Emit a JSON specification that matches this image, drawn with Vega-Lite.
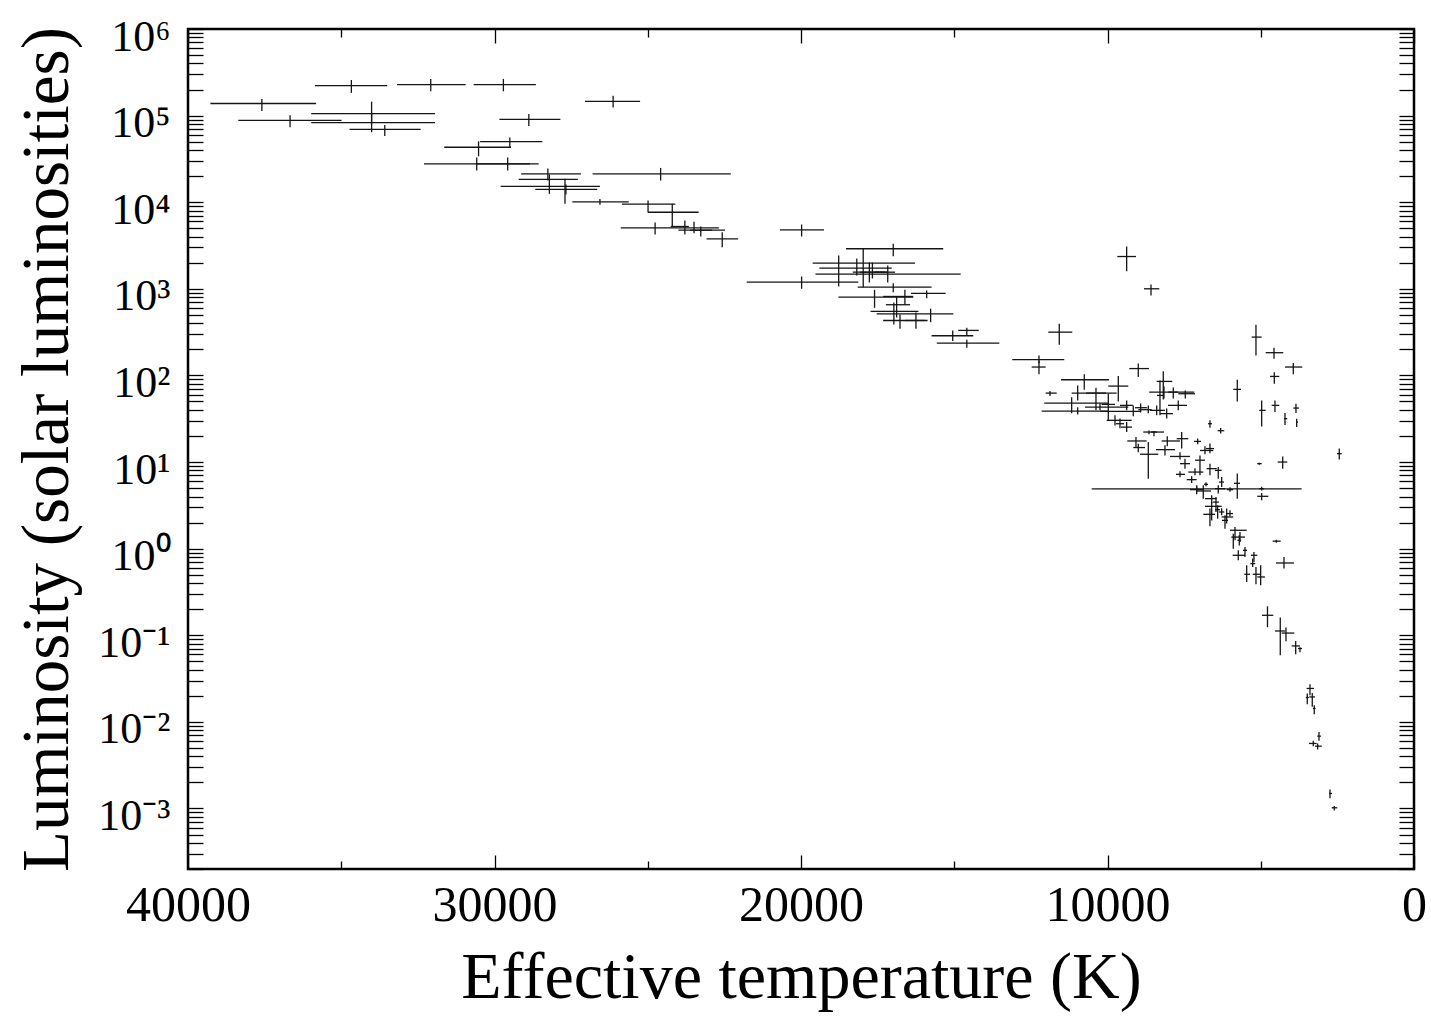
{
  "$schema": "https://vega.github.io/schema/vega-lite/v6.json",
  "autosize": {"type": "none"},
  "width": 1226,
  "height": 840,
  "padding": {"left": 188, "top": 29, "right": 17, "bottom": 148},
  "background": "white",
  "config": {
    "view": {"stroke": "black", "strokeWidth": 2.5},
    "axis": {
      "labelFont": "Liberation Serif",
      "titleFont": "Liberation Serif",
      "labelColor": "black",
      "titleColor": "black",
      "titleFontWeight": "normal",
      "tickColor": "black",
      "tickWidth": 1.3,
      "domain": false,
      "grid": false
    }
  },
  "data": {"values": [
    {"T":34670,"Thi":35860,"Tlo":33500,"L":222000,"Lhi":258000,"Llo":183000},
    {"T":32080,"Thi":33180,"Tlo":30940,"L":228000,"Lhi":265000,"Llo":191000},
    {"T":29710,"Thi":30680,"Tlo":28650,"L":228000,"Lhi":265000,"Llo":191000},
    {"T":37590,"Thi":39270,"Tlo":35820,"L":138000,"Lhi":156000,"Llo":113000},
    {"T":36670,"Thi":38360,"Tlo":34990,"L":88300,"Lhi":101000,"Llo":73300},
    {"T":34010,"Thi":35980,"Tlo":31940,"L":105500,"Lhi":145000,"Llo":78700},
    {"T":34010,"Thi":35980,"Tlo":31940,"L":83000,"Lhi":108300,"Llo":64200},
    {"T":33580,"Thi":34730,"Tlo":32410,"L":69500,"Lhi":78100,"Llo":58300},
    {"T":26130,"Thi":27050,"Tlo":25250,"L":146000,"Lhi":170000,"Llo":124000},
    {"T":28880,"Thi":29840,"Tlo":27850,"L":90600,"Lhi":104600,"Llo":76100},
    {"T":29500,"Thi":30470,"Tlo":28440,"L":50100,"Lhi":55800,"Llo":42400},
    {"T":30520,"Thi":31640,"Tlo":29460,"L":43100,"Lhi":50500,"Llo":33900},
    {"T":30580,"Thi":32300,"Tlo":28840,"L":27700,"Lhi":32800,"Llo":23200},
    {"T":29570,"Thi":30600,"Tlo":28560,"L":27700,"Lhi":32800,"Llo":23200},
    {"T":28260,"Thi":29130,"Tlo":27180,"L":21250,"Lhi":24500,"Llo":17800},
    {"T":28210,"Thi":29210,"Tlo":27280,"L":18400,"Lhi":20900,"Llo":12500},
    {"T":27700,"Thi":29800,"Tlo":26560,"L":15200,"Lhi":18600,"Llo":9580},
    {"T":27670,"Thi":28670,"Tlo":26650,"L":14100,"Lhi":16000,"Llo":12300},
    {"T":24580,"Thi":26800,"Tlo":22290,"L":21250,"Lhi":24900,"Llo":17800},
    {"T":26560,"Thi":27460,"Tlo":25620,"L":10100,"Lhi":10900,"Llo":9330},
    {"T":24990,"Thi":25840,"Tlo":24100,"L":9480,"Lhi":10450,"Llo":7600},
    {"T":24200,"Thi":24990,"Tlo":23340,"L":7660,"Lhi":9580,"Llo":5140},
    {"T":24760,"Thi":25880,"Tlo":22680,"L":5060,"Lhi":5830,"Llo":4240},
    {"T":23790,"Thi":24250,"Tlo":23660,"L":5240,"Lhi":6140,"Llo":4240},
    {"T":23490,"Thi":24000,"Tlo":22480,"L":4750,"Lhi":5940,"Llo":4390},
    {"T":23270,"Thi":23620,"Tlo":22900,"L":4750,"Lhi":5240,"Llo":4020},
    {"T":22570,"Thi":23080,"Tlo":22050,"L":3780,"Lhi":4500,"Llo":3020},
    {"T":19980,"Thi":20690,"Tlo":19250,"L":4800,"Lhi":5530,"Llo":4020},
    {"T":16990,"Thi":18530,"Tlo":15360,"L":2900,"Lhi":3310,"Llo":2380},
    {"T":18770,"Thi":19620,"Tlo":16280,"L":1976,"Lhi":2420,"Llo":1064},
    {"T":18180,"Thi":19400,"Tlo":17040,"L":1730,"Lhi":2240,"Llo":1425},
    {"T":17970,"Thi":19530,"Tlo":14790,"L":1476,"Lhi":2900,"Llo":1044},
    {"T":17770,"Thi":18310,"Tlo":17150,"L":1556,"Lhi":2010,"Llo":1183},
    {"T":17670,"Thi":18080,"Tlo":17260,"L":1556,"Lhi":2010,"Llo":1316},
    {"T":17170,"Thi":17590,"Tlo":16930,"L":1556,"Lhi":1860,"Llo":1183},
    {"T":19980,"Thi":21770,"Tlo":18130,"L":1193,"Lhi":1388,"Llo":1001},
    {"T":16990,"Thi":18150,"Tlo":15740,"L":1044,"Lhi":1162,"Llo":915},
    {"T":17600,"Thi":18780,"Tlo":16340,"L":801,"Lhi":975,"Llo":604},
    {"T":16610,"Thi":17320,"Tlo":16340,"L":816,"Lhi":975,"Llo":660},
    {"T":15900,"Thi":16410,"Tlo":15280,"L":884,"Lhi":957,"Llo":780},
    {"T":16880,"Thi":17230,"Tlo":16440,"L":655,"Lhi":801,"Llo":467},
    {"T":16970,"Thi":17730,"Tlo":16170,"L":548,"Lhi":696,"Llo":388},
    {"T":15770,"Thi":17530,"Tlo":15030,"L":515,"Lhi":589,"Llo":412},
    {"T":16770,"Thi":17320,"Tlo":15870,"L":431,"Lhi":506,"Llo":346},
    {"T":16250,"Thi":16610,"Tlo":15960,"L":431,"Lhi":533,"Llo":346},
    {"T":15050,"Thi":15740,"Tlo":14380,"L":287,"Lhi":331,"Llo":249},
    {"T":14590,"Thi":14870,"Tlo":14200,"L":331,"Lhi":355,"Llo":287},
    {"T":14590,"Thi":15570,"Tlo":13530,"L":236,"Lhi":258,"Llo":209},
    {"T":9375,"Thi":9681,"Tlo":9071,"L":2360,"Lhi":3080,"Llo":1598},
    {"T":8581,"Thi":8810,"Tlo":8311,"L":1001,"Lhi":1122,"Llo":838},
    {"T":11573,"Thi":11932,"Tlo":11149,"L":316,"Lhi":395,"Llo":226},
    {"T":12236,"Thi":13107,"Tlo":11410,"L":152,"Lhi":170,"Llo":138},
    {"T":12236,"Thi":12474,"Tlo":12017,"L":125,"Lhi":149,"Llo":103},
    {"T":5156,"Thi":5296,"Tlo":4970,"L":277,"Lhi":385,"Llo":170},
    {"T":4568,"Thi":4839,"Tlo":4265,"L":183,"Lhi":209,"Llo":156},
    {"T":3938,"Thi":4210,"Tlo":3645,"L":125,"Lhi":139,"Llo":103},
    {"T":8996,"Thi":9290,"Tlo":8647,"L":120,"Lhi":137,"Llo":95.6},
    {"T":4558,"Thi":4699,"Tlo":4395,"L":97.4,"Lhi":109,"Llo":80.3},
    {"T":10758,"Thi":11518,"Tlo":9952,"L":89.2,"Lhi":103,"Llo":68.4},
    {"T":9648,"Thi":9974,"Tlo":9322,"L":75.3,"Lhi":98.2,"Llo":50.1},
    {"T":8180,"Thi":8395,"Tlo":7886,"L":85.3,"Lhi":112,"Llo":52.9},
    {"T":8157,"Thi":8640,"Tlo":7169,"L":64.2,"Lhi":74.7,"Llo":54.3},
    {"T":7854,"Thi":8027,"Tlo":7701,"L":64.2,"Lhi":72.7,"Llo":54.3},
    {"T":7462,"Thi":7691,"Tlo":7146,"L":61.5,"Lhi":67.2,"Llo":54.3},
    {"T":5766,"Thi":5896,"Tlo":5645,"L":69.0,"Lhi":89.2,"Llo":50.1},
    {"T":11877,"Thi":12017,"Tlo":11658,"L":62.5,"Lhi":65.9,"Llo":57.7},
    {"T":10973,"Thi":11169,"Tlo":9701,"L":62.5,"Lhi":76.7,"Llo":51.5},
    {"T":10376,"Thi":10702,"Tlo":10050,"L":62.5,"Lhi":72.1,"Llo":39.5},
    {"T":9974,"Thi":10190,"Tlo":9756,"L":46.3,"Lhi":62.0,"Llo":30.3},
    {"T":11169,"Thi":12063,"Tlo":9952,"L":47.9,"Lhi":55.8,"Llo":36.5},
    {"T":10973,"Thi":12147,"Tlo":9974,"L":38.8,"Lhi":42.8,"Llo":35.5},
    {"T":10245,"Thi":10735,"Tlo":9322,"L":43.1,"Lhi":47.5,"Llo":39.5},
    {"T":9375,"Thi":9593,"Tlo":9169,"L":45.1,"Lhi":51.5,"Llo":39.5},
    {"T":9159,"Thi":10245,"Tlo":8940,"L":38.4,"Lhi":45.1,"Llo":33.7},
    {"T":8918,"Thi":9103,"Tlo":8712,"L":42.4,"Lhi":47.5,"Llo":37.4},
    {"T":8669,"Thi":8996,"Tlo":8558,"L":40.2,"Lhi":45.1,"Llo":36.5},
    {"T":8395,"Thi":8614,"Tlo":8125,"L":39.5,"Lhi":45.1,"Llo":34.6},
    {"T":8288,"Thi":8386,"Tlo":8190,"L":58.8,"Lhi":87.6,"Llo":34.6},
    {"T":8069,"Thi":8288,"Tlo":7864,"L":36.2,"Lhi":41.6,"Llo":31.9},
    {"T":7691,"Thi":8027,"Tlo":7407,"L":45.1,"Lhi":51.5,"Llo":39.5},
    {"T":9756,"Thi":10027,"Tlo":9211,"L":30.3,"Lhi":34.6,"Llo":26.5},
    {"T":9593,"Thi":9724,"Tlo":9462,"L":27.7,"Lhi":31.9,"Llo":24.5},
    {"T":9375,"Thi":9560,"Tlo":9201,"L":25.3,"Lhi":28.9,"Llo":22.2},
    {"T":8647,"Thi":8832,"Tlo":8157,"L":22.2,"Lhi":23.2,"Llo":20.9},
    {"T":8484,"Thi":8582,"Tlo":8386,"L":22.2,"Lhi":22.8,"Llo":19.8},
    {"T":6657,"Thi":6722,"Tlo":6591,"L":27.7,"Lhi":30.3,"Llo":24.9},
    {"T":6308,"Thi":6406,"Tlo":6190,"L":23.0,"Lhi":24.7,"Llo":21.3},
    {"T":9071,"Thi":9355,"Tlo":8722,"L":17.5,"Lhi":19.4,"Llo":14.9},
    {"T":8996,"Thi":9159,"Tlo":8777,"L":14.7,"Lhi":16.3,"Llo":13.0},
    {"T":8669,"Thi":8940,"Tlo":8343,"L":12.3,"Lhi":17.0,"Llo":6.43},
    {"T":8050,"Thi":8232,"Tlo":7635,"L":17.5,"Lhi":19.8,"Llo":15.2},
    {"T":7580,"Thi":7743,"Tlo":7364,"L":18.6,"Lhi":22.2,"Llo":14.3},
    {"T":8125,"Thi":8418,"Tlo":7798,"L":13.9,"Lhi":15.6,"Llo":11.9},
    {"T":7058,"Thi":7179,"Tlo":6950,"L":17.3,"Lhi":18.7,"Llo":16.0},
    {"T":6820,"Thi":6983,"Tlo":6549,"L":13.6,"Lhi":15.2,"Llo":12.3},
    {"T":6657,"Thi":6787,"Tlo":6526,"L":14.3,"Lhi":16.4,"Llo":12.6},
    {"T":7635,"Thi":7961,"Tlo":7309,"L":11.6,"Lhi":13.0,"Llo":10.7},
    {"T":7472,"Thi":7635,"Tlo":7309,"L":9.58,"Lhi":10.9,"Llo":8.39},
    {"T":6983,"Thi":7146,"Tlo":6820,"L":10.5,"Lhi":11.9,"Llo":7.02},
    {"T":7146,"Thi":7364,"Tlo":6875,"L":7.66,"Lhi":8.46,"Llo":7.02},
    {"T":6657,"Thi":6764,"Tlo":6438,"L":8.39,"Lhi":9.58,"Llo":7.02},
    {"T":6386,"Thi":6493,"Tlo":6275,"L":8.02,"Lhi":8.74,"Llo":6.43},
    {"T":7635,"Thi":7766,"Tlo":7472,"L":7.21,"Lhi":7.81,"Llo":6.66},
    {"T":7254,"Thi":7417,"Tlo":7091,"L":6.26,"Lhi":6.84,"Llo":5.72},
    {"T":6275,"Thi":6364,"Tlo":6201,"L":5.87,"Lhi":6.71,"Llo":5.14},
    {"T":6787,"Thi":6850,"Tlo":6720,"L":5.53,"Lhi":5.83,"Llo":5.24},
    {"T":7091,"Thi":10516,"Tlo":3665,"L":4.90,"Lhi":5.24,"Llo":4.59},
    {"T":7091,"Thi":7309,"Tlo":6885,"L":4.80,"Lhi":5.38,"Llo":4.24},
    {"T":6875,"Thi":7113,"Tlo":6624,"L":4.63,"Lhi":5.38,"Llo":3.78},
    {"T":6386,"Thi":6493,"Tlo":6167,"L":4.93,"Lhi":5.38,"Llo":4.32},
    {"T":6004,"Thi":6102,"Tlo":5906,"L":4.80,"Lhi":5.10,"Llo":4.53},
    {"T":5766,"Thi":5874,"Tlo":5678,"L":5.68,"Lhi":7.35,"Llo":3.78},
    {"T":4970,"Thi":5113,"Tlo":4754,"L":4.02,"Lhi":4.39,"Llo":3.61},
    {"T":4970,"Thi":5050,"Tlo":4890,"L":4.93,"Lhi":5.20,"Llo":4.68},
    {"T":6601,"Thi":6820,"Tlo":6438,"L":3.78,"Lhi":4.13,"Llo":3.31},
    {"T":6461,"Thi":6559,"Tlo":6364,"L":3.45,"Lhi":3.94,"Llo":2.65},
    {"T":6601,"Thi":6820,"Tlo":6275,"L":3.08,"Lhi":3.45,"Llo":2.12},
    {"T":6657,"Thi":6875,"Tlo":6493,"L":2.49,"Lhi":2.90,"Llo":1.81},
    {"T":6406,"Thi":6493,"Tlo":6330,"L":2.82,"Lhi":3.16,"Llo":2.22},
    {"T":6275,"Thi":6364,"Tlo":6190,"L":2.65,"Lhi":2.92,"Llo":2.43},
    {"T":6112,"Thi":6275,"Tlo":5896,"L":2.32,"Lhi":2.90,"Llo":1.95},
    {"T":6004,"Thi":6102,"Tlo":5906,"L":2.54,"Lhi":2.77,"Llo":2.36},
    {"T":6167,"Thi":6266,"Tlo":6069,"L":2.12,"Lhi":2.43,"Llo":1.70},
    {"T":5840,"Thi":6004,"Tlo":5459,"L":1.63,"Lhi":1.78,"Llo":1.25},
    {"T":5678,"Thi":5840,"Tlo":5514,"L":1.36,"Lhi":1.56,"Llo":1.19},
    {"T":5896,"Thi":5960,"Tlo":5830,"L":1.36,"Lhi":1.49,"Llo":1.00},
    {"T":5700,"Thi":5760,"Tlo":5640,"L":1.25,"Lhi":1.43,"Llo":1.09},
    {"T":5514,"Thi":5580,"Tlo":5449,"L":0.957,"Lhi":1.045,"Llo":0.80},
    {"T":5733,"Thi":5916,"Tlo":5514,"L":0.838,"Lhi":0.957,"Llo":0.734},
    {"T":5222,"Thi":5319,"Tlo":5113,"L":0.838,"Lhi":0.915,"Llo":0.702},
    {"T":5263,"Thi":5340,"Tlo":5180,"L":0.672,"Lhi":0.768,"Llo":0.614},
    {"T":4242,"Thi":4503,"Tlo":3916,"L":0.683,"Lhi":0.80,"Llo":0.589},
    {"T":5459,"Thi":5537,"Tlo":5351,"L":0.506,"Lhi":0.642,"Llo":0.412},
    {"T":5156,"Thi":5263,"Tlo":5026,"L":0.506,"Lhi":0.614,"Llo":0.388},
    {"T":5003,"Thi":5113,"Tlo":4863,"L":0.471,"Lhi":0.642,"Llo":0.378},
    {"T":4493,"Thi":4611,"Tlo":4350,"L":1.22,"Lhi":1.265,"Llo":1.17},
    {"T":4780,"Thi":4960,"Tlo":4591,"L":0.170,"Lhi":0.216,"Llo":0.124},
    {"T":4363,"Thi":4536,"Tlo":4210,"L":0.112,"Lhi":0.160,"Llo":0.0588},
    {"T":4177,"Thi":4317,"Tlo":3906,"L":0.106,"Lhi":0.1228,"Llo":0.0853},
    {"T":3860,"Thi":3990,"Tlo":3720,"L":0.0753,"Lhi":0.086,"Llo":0.0604},
    {"T":3720,"Thi":3785,"Tlo":3655,"L":0.0703,"Lhi":0.0727,"Llo":0.0637},
    {"T":3394,"Thi":3502,"Tlo":3263,"L":0.0243,"Lhi":0.0272,"Llo":0.0203},
    {"T":3482,"Thi":3530,"Tlo":3430,"L":0.0191,"Lhi":0.0213,"Llo":0.016},
    {"T":3319,"Thi":3417,"Tlo":3231,"L":0.0194,"Lhi":0.0216,"Llo":0.0149},
    {"T":3254,"Thi":3300,"Tlo":3210,"L":0.01428,"Lhi":0.01558,"Llo":0.01227},
    {"T":3100,"Thi":3156,"Tlo":3035,"L":0.00684,"Lhi":0.00766,"Llo":0.00604},
    {"T":3286,"Thi":3427,"Tlo":3175,"L":0.00563,"Lhi":0.00604,"Llo":0.00524},
    {"T":3143,"Thi":3231,"Tlo":3010,"L":0.00524,"Lhi":0.00563,"Llo":0.0048},
    {"T":2741,"Thi":2773,"Tlo":2676,"L":0.00149,"Lhi":0.00166,"Llo":0.00131},
    {"T":2601,"Thi":2686,"Tlo":2503,"L":0.001018,"Lhi":0.001065,"Llo":0.000945},
    {"T":4970,"Thi":5048,"Tlo":4839,"L":39.5,"Lhi":51.5,"Llo":25.8},
    {"T":4536,"Thi":4644,"Tlo":4395,"L":45.1,"Lhi":51.5,"Llo":37.7},
    {"T":3851,"Thi":3938,"Tlo":3753,"L":42.0,"Lhi":47.2,"Llo":36.8},
    {"T":4210,"Thi":4242,"Tlo":4135,"L":31.7,"Lhi":36.8,"Llo":26.7},
    {"T":3828,"Thi":3851,"Tlo":3785,"L":28.9,"Lhi":31.7,"Llo":25.3},
    {"T":2438,"Thi":2513,"Tlo":2360,"L":12.5,"Lhi":14.3,"Llo":10.7},
    {"T":5048,"Thi":5113,"Tlo":4970,"L":9.58,"Lhi":9.79,"Llo":9.28},
    {"T":4284,"Thi":4448,"Tlo":4135,"L":10.0,"Lhi":11.6,"Llo":8.39}
  ]},
  "resolve": {"axis": {"x": "independent", "y": "independent"}},
  "layer": [
    {
      "mark": {"type": "rule", "strokeWidth": 1.3, "color": "#151515"},
      "encoding": {
        "x": {"field": "Thi", "type": "quantitative",
              "scale": {"domain": [0, 40000], "reverse": true, "nice": false, "zero": false},
              "axis": {
                "orient": "bottom",
                "values": [0, 5000, 10000, 15000, 20000, 25000, 30000, 35000, 40000],
                "labelExpr": "datum.value % 10000 === 0 ? format(datum.value, 'd') : ''",
                "labelFontSize": 50,
                "labelPadding": 25,
                "labelOverlap": false,
                "labelFlush": false,
                "tickSize": {"condition": {"test": "datum.value % 10000 === 0", "value": -14}, "value": -8},
                "title": "Effective temperature (K)",
                "titleFontSize": 66,
                "titlePadding": 9
              }},
        "x2": {"field": "Tlo"},
        "y": {"field": "L", "type": "quantitative",
              "scale": {"type": "log", "domain": [0.0002, 1000000], "nice": false},
              "axis": {
                "orient": "left",
                "values": [0.0002,0.0003,0.0004,0.0005,0.0006,0.0007,0.0008,0.0009,0.001,0.002,0.003,0.004,0.005,0.006,0.007,0.008,0.009,0.01,0.02,0.03,0.04,0.05,0.06,0.07,0.08,0.09,0.1,0.2,0.3,0.4,0.5,0.6,0.7,0.8,0.9,1,2,3,4,5,6,7,8,9,10,20,30,40,50,60,70,80,90,100,200,300,400,500,600,700,800,900,1000,2000,3000,4000,5000,6000,7000,8000,9000,10000,20000,30000,40000,50000,60000,70000,80000,90000,100000,200000,300000,400000,500000,600000,700000,800000,900000,1000000],
                "labelExpr": "abs(datum.value / pow(10, round(log(datum.value) / LN10)) - 1) < 0.001 ? ['10⁻³','10⁻²','10⁻¹','10⁰','10¹','10²','10³','10⁴','10⁵','10⁶'][round(log(datum.value) / LN10) + 3] : ''",
                "labelFontSize": 44,
                "labelPadding": 33,
                "labelOffset": 8,
                "labelOverlap": false,
                "labelFlush": false,
                "labelBaseline": "middle",
                "tickSize": -15,
                "title": "Luminosity (solar luminosities)",
                "titleFontSize": 67,
                "titlePadding": 16
              }}
      }
    },
    {
      "mark": {"type": "rule", "strokeWidth": 1.3, "color": "#151515"},
      "encoding": {
        "x": {"field": "T", "type": "quantitative", "axis": null},
        "y": {"field": "Llo", "type": "quantitative", "axis": null},
        "y2": {"field": "Lhi"}
      }
    },
    {
      "mark": {"type": "point", "opacity": 0},
      "encoding": {
        "x": {"field": "T", "type": "quantitative",
              "axis": {
                "orient": "top",
                "values": [0, 5000, 10000, 15000, 20000, 25000, 30000, 35000, 40000],
                "labels": false,
                "tickSize": {"condition": {"test": "datum.value % 10000 === 0", "value": -14}, "value": -8},
                "title": null
              }},
        "y": {"field": "L", "type": "quantitative",
              "axis": {
                "orient": "right",
                "values": [0.0002,0.0003,0.0004,0.0005,0.0006,0.0007,0.0008,0.0009,0.001,0.002,0.003,0.004,0.005,0.006,0.007,0.008,0.009,0.01,0.02,0.03,0.04,0.05,0.06,0.07,0.08,0.09,0.1,0.2,0.3,0.4,0.5,0.6,0.7,0.8,0.9,1,2,3,4,5,6,7,8,9,10,20,30,40,50,60,70,80,90,100,200,300,400,500,600,700,800,900,1000,2000,3000,4000,5000,6000,7000,8000,9000,10000,20000,30000,40000,50000,60000,70000,80000,90000,100000,200000,300000,400000,500000,600000,700000,800000,900000,1000000],
                "labels": false,
                "tickSize": -15,
                "title": null
              }}
      }
    }
  ]
}
